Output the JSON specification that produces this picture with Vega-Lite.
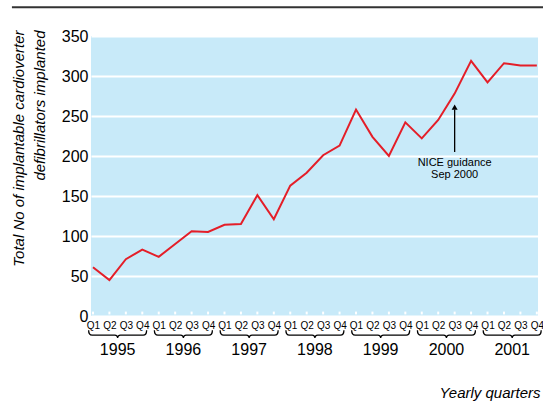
{
  "$schema": "https://vega.github.io/schema/vega-lite/v6.json",
  "autosize": "none",
  "width": 447,
  "height": 280,
  "padding": {"left": 91, "top": 36, "right": 5, "bottom": 89},
  "background": "white",
  "config": {
    "view": {"fill": "#C8EAF9", "stroke": null},
    "font": "Liberation Sans",
    "axisX": {"tickCount": 28, "labelOverlap": false, "labelFlush": false, "labelBound": false, "grid": false, "ticks": false, "domain": false, "labelFontSize": 10, "labelPadding": 4, "labelColor": "black"},
    "axisY": {"tickCount": 8, "labelOverlap": false, "labelFlush": false, "labelBound": false, "grid": true, "gridColor": "white", "gridWidth": 2, "gridOpacity": 1, "ticks": false, "domain": false, "labelFontSize": 16, "labelPadding": 3, "labelColor": "black"}
  },
  "datasets": {
    "quarters": [
      {"i": 0, "year": 1995, "q": "Q1", "value": 61},
      {"i": 1, "year": 1995, "q": "Q2", "value": 45},
      {"i": 2, "year": 1995, "q": "Q3", "value": 71},
      {"i": 3, "year": 1995, "q": "Q4", "value": 83},
      {"i": 4, "year": 1996, "q": "Q1", "value": 74},
      {"i": 5, "year": 1996, "q": "Q2", "value": 90},
      {"i": 6, "year": 1996, "q": "Q3", "value": 106},
      {"i": 7, "year": 1996, "q": "Q4", "value": 105},
      {"i": 8, "year": 1997, "q": "Q1", "value": 114},
      {"i": 9, "year": 1997, "q": "Q2", "value": 115},
      {"i": 10, "year": 1997, "q": "Q3", "value": 151},
      {"i": 11, "year": 1997, "q": "Q4", "value": 121},
      {"i": 12, "year": 1998, "q": "Q1", "value": 163},
      {"i": 13, "year": 1998, "q": "Q2", "value": 179},
      {"i": 14, "year": 1998, "q": "Q3", "value": 201},
      {"i": 15, "year": 1998, "q": "Q4", "value": 213},
      {"i": 16, "year": 1999, "q": "Q1", "value": 258},
      {"i": 17, "year": 1999, "q": "Q2", "value": 224},
      {"i": 18, "year": 1999, "q": "Q3", "value": 200},
      {"i": 19, "year": 1999, "q": "Q4", "value": 242},
      {"i": 20, "year": 2000, "q": "Q1", "value": 222},
      {"i": 21, "year": 2000, "q": "Q2", "value": 245},
      {"i": 22, "year": 2000, "q": "Q3", "value": 278},
      {"i": 23, "year": 2000, "q": "Q4", "value": 319},
      {"i": 24, "year": 2001, "q": "Q1", "value": 292},
      {"i": 25, "year": 2001, "q": "Q2", "value": 316},
      {"i": 26, "year": 2001, "q": "Q3", "value": 313},
      {"i": 27, "year": 2001, "q": "Q4", "value": 313}
    ],
    "years": [
      {"year": "1995", "mid": 1.5},
      {"year": "1996", "mid": 5.5},
      {"year": "1997", "mid": 9.5},
      {"year": "1998", "mid": 13.5},
      {"year": "1999", "mid": 17.5},
      {"year": "2000", "mid": 21.5},
      {"year": "2001", "mid": 25.5}
    ],
    "note": [
      {"i": 22, "label": "NICE guidance", "sub": "Sep 2000"}
    ]
  },
  "layer": [
    {
      "data": {"name": "quarters"},
      "mark": {"type": "line", "color": "#E41E28", "strokeWidth": 2},
      "encoding": {
        "x": {
          "field": "i",
          "type": "quantitative",
          "scale": {"domain": [-0.12, 27.07], "nice": false, "zero": false},
          "axis": {
            "tickCount": 28,
            "labelExpr": "'Q' + (datum.value % 4 + 1)",
            "labelOverlap": false,
            "title": "Yearly quarters",
            "titleFontSize": 15,
            "titleFontStyle": "italic",
            "titleFontWeight": "normal",
            "titleColor": "black",
            "titleX": 449,
            "titleY": 81,
            "titleAlign": "right",
            "titleBaseline": "alphabetic"
          }
        },
        "y": {
          "field": "value",
          "type": "quantitative",
          "scale": {"domain": [0, 350], "nice": false},
          "axis": {
            "tickCount": 8,
            "labelOverlap": false,
            "title": ["Total No of implantable cardioverter", "defibrillators implanted"],
            "titleFontSize": 15,
            "titleFontStyle": "italic",
            "titleFontWeight": "normal",
            "titleColor": "black",
            "titleLineHeight": 21,
            "titleAngle": -90,
            "titleX": -80,
            "titleY": -6,
            "titleAlign": "right",
            "titleBaseline": "top"
          }
        }
      }
    },
    {
      "data": {"name": "quarters"},
      "mark": {"type": "rule", "color": "white", "strokeWidth": 2},
      "encoding": {
        "x": {"field": "i", "type": "quantitative"},
        "y": {"datum": 2},
        "y2": {"datum": 5.5}
      }
    },
    {
      "data": {"name": "years"},
      "mark": {
        "type": "point",
        "shape": "M-1,-0.17 Q-1,0 -0.88,0 L-0.1,0 Q0,0 0,0.1 Q0,0 0.1,0 L0.88,0 Q1,0 1,-0.17",
        "filled": false,
        "stroke": "black",
        "strokeWidth": 1.3,
        "opacity": 1,
        "size": 3364
      },
      "encoding": {
        "x": {"field": "mid", "type": "quantitative"},
        "y": {"datum": -24}
      }
    },
    {
      "data": {"name": "years"},
      "mark": {"type": "text", "fontSize": 16, "color": "black", "baseline": "middle", "align": "center"},
      "encoding": {
        "x": {"field": "mid", "type": "quantitative"},
        "y": {"datum": -43},
        "text": {"field": "year"}
      }
    },
    {
      "data": {"name": "note"},
      "mark": {"type": "rule", "color": "black", "strokeWidth": 1.3},
      "encoding": {
        "x": {"field": "i", "type": "quantitative"},
        "y": {"datum": 205},
        "y2": {"datum": 258}
      }
    },
    {
      "data": {"name": "note"},
      "mark": {"type": "point", "shape": "triangle-up", "filled": true, "color": "black", "size": 36, "opacity": 1},
      "encoding": {
        "x": {"field": "i", "type": "quantitative"},
        "y": {"datum": 261}
      }
    },
    {
      "data": {"name": "note"},
      "mark": {"type": "text", "fontSize": 11, "color": "black", "baseline": "top", "align": "center", "lineHeight": 12.5},
      "encoding": {
        "x": {"field": "i", "type": "quantitative"},
        "y": {"datum": 199},
        "text": {"value": ["NICE guidance", "Sep 2000"]}
      }
    },
    {
      "data": {"values": [{"k": 1}]},
      "mark": {"type": "rule", "color": "#333333", "strokeWidth": 2},
      "encoding": {
        "x": {"datum": -4.93},
        "x2": {"datum": 27.5},
        "y": {"datum": 386}
      }
    }
  ]
}
